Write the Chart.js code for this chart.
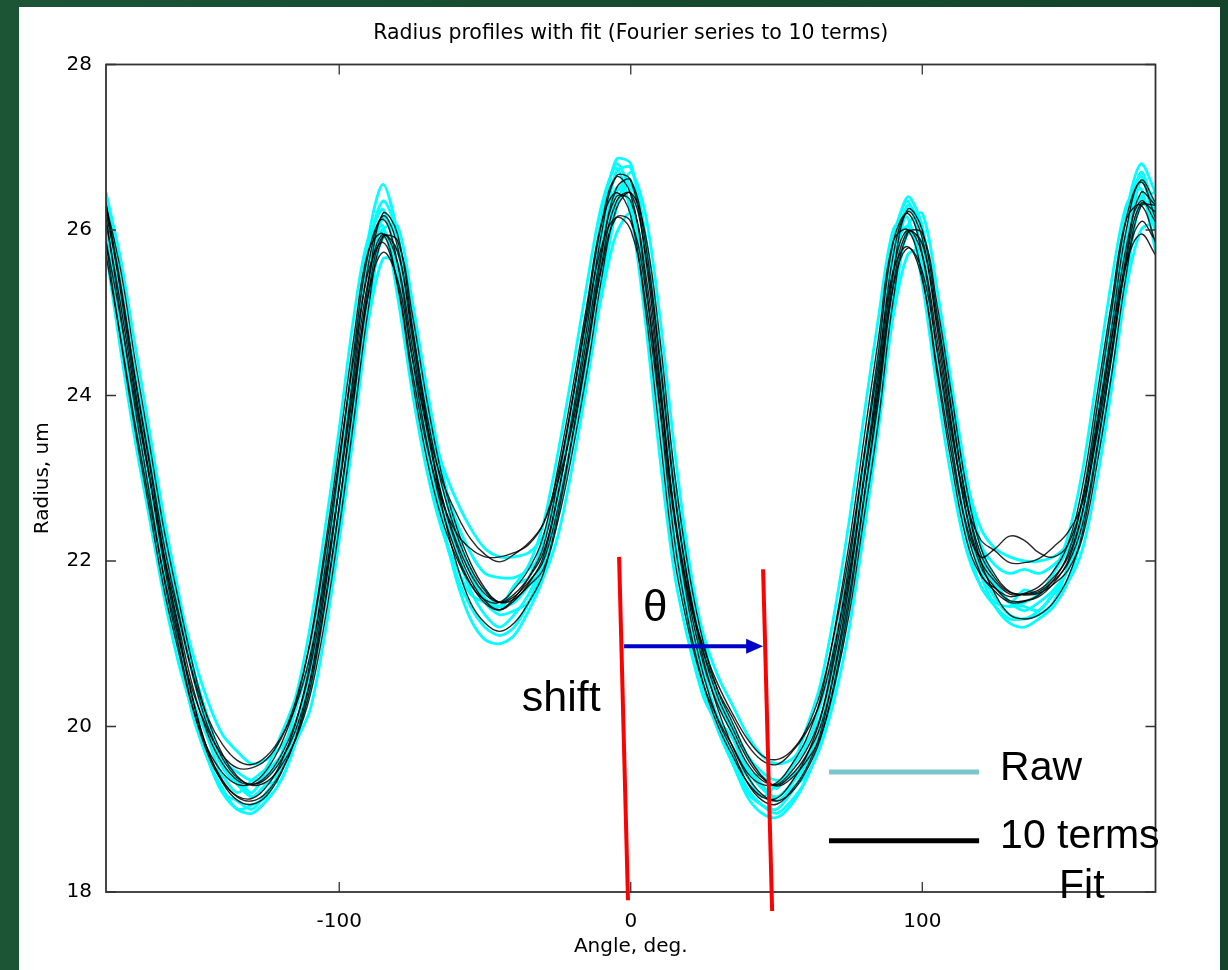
<!DOCTYPE html>
<html><head><meta charset="utf-8">
<script src="https://cdn.jsdelivr.net/npm/chart.js@4.4.1/dist/chart.umd.min.js"></script>
<style>
html,body{margin:0;padding:0;}
body{width:1228px;height:970px;overflow:hidden;position:relative;
 background:linear-gradient(90deg,#1b5536 0%,#174c30 40%,#14442b 100%);}
#panel{position:absolute;left:19px;top:7px;width:1201px;height:963px;background:#fff;}
canvas{display:block;}
</style></head><body>
<div id="panel"><canvas id="c" width="1201" height="963"></canvas></div>
<script>
// ---------------- data ----------------
const angles = [
 -180,-175,-170,-165,-160,-155,-150,-145,-140,-135,
 -130,-125,-120,-115,-110,-105,-100,-95,-90,-85,
 -80,-75,-70,-65,-60,-55,-50,-45,-40,-35,
 -30,-25,-20,-15,-10,-5,0,5,10,15,
 20,25,30,35,40,45,50,55,60,65,
 70,75,80,85,90,95,100,105,110,115,
 120,125,130,135,140,145,150,155,160,165,
 170,175,180];
const xTickValues = [-100, 0, 100];
const yTickValues = [18, 20, 22, 24, 26, 28];

// measured raw radius profiles (cyan)
const raw1 = [26.0,24.9,23.8,22.8,21.8,21.05,20.3,19.85,19.4,19.35,
 19.2,19.45,19.65,20.2,20.85,21.95,23.15,24.45,25.6,26.0,
 25.45,24.4,23.45,22.6,22.2,21.7,21.65,21.4,21.7,21.8,
 22.25,22.95,23.9,24.9,25.95,26.5,26.3,25.25,23.8,22.3,
 21.3,20.65,20.1,19.85,19.45,19.4,19.25,19.5,19.75,20.25,
 21.0,22.0,23.25,24.45,25.7,26.05,25.55,24.5,23.4,22.45,
 21.9,21.75,21.5,21.65,21.6,21.85,22.15,22.75,23.8,24.9,
 25.95,26.4,26.0];
const raw2 = [26.45,25.35,24.15,23.0,21.9,21.0,20.2,19.6,19.2,19.0,
 18.95,19.1,19.35,19.8,20.5,21.6,22.95,24.4,25.75,26.35,
 25.95,24.8,23.7,22.8,22.15,21.65,21.35,21.2,21.35,21.6,
 22.0,22.8,23.8,24.9,26.1,26.85,26.8,25.85,24.3,22.6,
 21.35,20.5,19.95,19.55,19.15,18.95,18.9,19.05,19.35,19.8,
 20.6,21.7,23.0,24.35,25.8,26.4,26.05,24.95,23.75,22.6,
 21.9,21.55,21.35,21.3,21.4,21.6,21.9,22.55,23.7,24.95,
 26.2,26.8,26.45];
const raw3 = [26.1,25.25,24.25,23.3,22.35,21.55,20.85,20.3,19.9,19.7,
 19.55,19.6,19.75,20.05,20.55,21.45,22.5,23.75,24.9,25.65,
 25.6,24.8,23.85,23.2,22.75,22.4,22.15,22.05,22.05,22.1,
 22.3,22.75,23.4,24.3,25.2,25.95,26.2,25.65,24.45,23.0,
 21.9,21.1,20.6,20.25,19.9,19.65,19.55,19.6,19.8,20.1,
 20.7,21.55,22.6,23.75,24.95,25.7,25.75,24.95,23.95,23.0,
 22.4,22.15,22.05,22.0,22.0,22.05,22.2,22.5,23.25,24.25,
 25.3,26.0,26.1];
const raw4 = [26.45,25.65,24.6,23.55,22.5,21.6,20.7,20.1,19.55,19.35,
 19.15,19.3,19.35,19.8,20.2,21.1,22.25,23.55,24.95,26.0,
 26.05,25.15,24.1,23.15,22.4,21.85,21.5,21.35,21.4,21.5,
 21.8,22.3,23.15,24.15,25.25,26.25,26.7,26.2,24.95,23.35,
 22.0,21.05,20.35,19.95,19.5,19.3,19.1,19.25,19.4,19.75,
 20.35,21.2,22.35,23.6,25.0,26.05,26.2,25.3,24.15,23.05,
 22.2,21.75,21.5,21.45,21.4,21.6,21.75,22.15,23.0,24.1,
 25.35,26.4,26.45];
const raw5 = [25.75,24.55,23.45,22.5,21.55,20.75,20.15,19.6,19.4,19.2,
 19.35,19.5,19.9,20.35,21.2,22.35,23.6,24.95,25.9,26.05,
 25.2,24.05,23.1,22.4,21.95,21.6,21.5,21.45,21.7,21.95,
 22.45,23.3,24.3,25.35,26.3,26.75,26.2,24.9,23.25,21.85,
 21.0,20.35,20.0,19.6,19.4,19.15,19.3,19.5,19.95,20.5,
 21.4,22.5,23.75,24.95,26.0,26.15,25.35,24.1,23.0,22.15,
 21.7,21.5,21.45,21.5,21.6,21.85,22.3,23.1,24.25,25.4,
 26.3,26.5,25.75];
const raw6 = [26.2,25.2,24.05,23.0,21.95,21.05,20.25,19.6,19.25,19.0,
 19.05,19.15,19.5,19.95,20.65,21.75,23.05,24.5,25.9,26.55,
 25.95,24.7,23.55,22.55,21.8,21.3,21.05,21.0,21.1,21.4,
 21.8,22.55,23.55,24.65,25.85,26.7,26.75,25.95,24.5,22.85,
 21.6,20.7,20.05,19.65,19.25,19.05,18.95,19.1,19.35,19.8,
 20.5,21.5,22.8,24.15,25.6,26.3,26.0,24.95,23.8,22.65,
 21.85,21.45,21.25,21.2,21.3,21.45,21.75,22.35,23.45,24.65,
 25.9,26.7,26.2];
const raw7 = [26.25,25.3,24.2,23.2,22.2,21.4,20.6,20.05,19.6,19.45,
 19.35,19.4,19.6,19.95,20.5,21.45,22.65,23.95,25.2,25.9,
 25.75,24.85,23.85,23.05,22.5,22.1,21.85,21.8,21.8,21.9,
 22.1,22.65,23.5,24.5,25.5,26.3,26.55,25.8,24.4,22.85,
 21.7,20.9,20.4,20.0,19.65,19.45,19.35,19.4,19.6,19.95,
 20.65,21.6,22.75,23.95,25.25,25.95,25.85,24.95,23.85,22.85,
 22.2,21.95,21.85,21.9,21.85,21.95,22.15,22.55,23.45,24.5,
 25.6,26.3,26.25];
const raw8 = [26.3,25.35,24.25,23.15,22.2,21.3,20.6,19.95,19.5,19.3,
 19.15,19.3,19.5,20.0,20.45,21.5,22.6,24.0,25.3,26.15,
 25.9,24.9,23.8,23.0,22.3,21.9,21.55,21.45,21.5,21.7,
 21.95,22.6,23.45,24.5,25.6,26.45,26.6,25.85,24.45,22.9,
 21.7,20.85,20.3,19.9,19.5,19.25,19.15,19.3,19.55,19.95,
 20.6,21.55,22.8,24.0,25.4,26.25,26.0,25.0,23.85,22.75,
 22.05,21.7,21.5,21.4,21.5,21.65,21.9,22.4,23.4,24.5,
 25.7,26.6,26.3];
const raw9 = [26.0,24.85,23.75,22.7,21.7,20.9,20.1,19.6,19.2,19.1,
 19.0,19.2,19.45,20.0,20.7,21.85,23.1,24.55,25.8,26.25,
 25.55,24.35,23.3,22.45,21.85,21.45,21.2,21.1,21.2,21.5,
 21.95,22.85,23.9,25.0,26.15,26.8,26.45,25.3,23.75,22.2,
 21.15,20.45,19.95,19.55,19.2,19.05,19.0,19.2,19.5,20.0,
 20.85,21.95,23.2,24.5,25.9,26.35,25.7,24.5,23.35,22.3,
 21.7,21.45,21.3,21.3,21.35,21.5,21.95,22.65,23.85,25.05,
 26.2,26.65,26.0];

// 10-term Fourier fits (black)
const fit1 = [26.1,25.1,24.0,23.0,22.0,21.2,20.45,19.9,19.55,19.35,
 19.3,19.4,19.65,20.05,20.7,21.7,22.9,24.2,25.4,25.95,
 25.6,24.6,23.6,22.8,22.25,21.85,21.6,21.5,21.6,21.8,
 22.1,22.8,23.7,24.7,25.75,26.4,26.35,25.5,24.1,22.55,
 21.5,20.75,20.25,19.9,19.55,19.35,19.3,19.45,19.7,20.1,
 20.85,21.8,23.0,24.2,25.5,26.0,25.7,24.7,23.6,22.6,
 22.0,21.75,21.6,21.6,21.65,21.8,22.05,22.6,23.6,24.7,
 25.8,26.35,26.1];
const fit2 = [26.33,25.26,24.08,23.01,21.94,21.09,20.29,19.7,19.32,19.11,
 19.06,19.16,19.43,19.86,20.55,21.62,22.91,24.3,25.58,26.17,
 25.8,24.73,23.66,22.8,22.21,21.78,21.52,21.41,21.52,21.73,
 22.05,22.8,23.76,24.83,25.96,26.65,26.6,25.69,24.19,22.53,
 21.41,20.61,20.07,19.7,19.32,19.11,19.06,19.22,19.48,19.91,
 20.71,21.73,23.01,24.3,25.69,26.22,25.9,24.83,23.66,22.59,
 21.94,21.68,21.52,21.52,21.57,21.73,22.0,22.59,23.66,24.83,
 26.01,26.6,26.33];
const fit3 = [25.87,24.94,23.92,22.99,22.06,21.31,20.61,20.1,19.78,19.59,
 19.54,19.64,19.87,20.24,20.85,21.78,22.89,24.1,25.22,25.73,
 25.4,24.47,23.64,23.0,22.59,22.27,22.08,21.99,22.08,22.22,
 22.45,22.95,23.64,24.57,25.54,26.15,26.1,25.31,24.01,22.57,
 21.59,20.89,20.43,20.1,19.78,19.59,19.54,19.68,19.92,20.29,
 20.99,21.87,22.99,24.1,25.31,25.78,25.5,24.57,23.54,22.71,
 22.26,22.12,21.98,21.98,22.03,22.17,22.35,22.71,23.54,24.57,
 25.59,26.1,25.87];
const fit4 = [26.3,25.52,24.42,23.4,22.36,21.51,20.71,20.08,19.66,19.4,
 19.29,19.33,19.52,19.84,20.37,21.26,22.4,23.7,25.05,25.91,
 25.87,25.0,23.96,23.07,22.44,21.98,21.67,21.5,21.54,21.7,
 21.9,22.48,23.32,24.29,25.41,26.25,26.45,25.95,24.69,23.07,
 21.86,21.0,20.42,20.04,19.66,19.4,19.28,19.37,19.57,19.87,
 20.51,21.37,22.52,23.7,25.14,25.96,25.96,25.12,24.02,22.92,
 22.17,21.83,21.63,21.59,21.61,21.72,21.89,22.29,23.18,24.26,
 25.47,26.29,26.3];
const fit5 = [25.85,24.68,23.58,22.6,21.64,20.89,20.19,19.72,19.44,19.3,
 19.31,19.47,19.78,20.26,21.03,22.14,23.4,24.7,25.75,25.95,
 25.33,24.2,23.24,22.53,22.06,21.72,21.53,21.5,21.66,21.9,
 22.3,23.12,24.08,25.11,26.09,26.45,26.17,25.05,23.51,22.03,
 21.14,20.5,20.08,19.76,19.44,19.3,19.32,19.53,19.83,20.33,
 21.19,22.23,23.48,24.7,25.86,26.0,25.44,24.28,23.18,22.28,
 21.83,21.67,21.57,21.61,21.69,21.88,22.21,22.91,24.02,25.14,
 26.13,26.3,25.85];
const fit6 = [26.3,25.35,24.2,23.15,22.05,21.15,20.3,19.7,19.35,19.15,
 19.1,19.2,19.45,19.85,20.45,21.45,22.65,24.0,25.35,26.2,
 25.95,24.85,23.7,22.7,22.0,21.5,21.25,21.15,21.25,21.5,
 21.85,22.55,23.5,24.55,25.7,26.5,26.6,25.85,24.45,22.85,
 21.65,20.8,20.2,19.75,19.4,19.18,19.1,19.2,19.45,19.85,
 20.55,21.5,22.75,24.05,25.45,26.25,26.0,25.0,23.85,22.75,
 22.0,21.6,21.35,21.3,21.35,21.5,21.8,22.35,23.35,24.5,
 25.7,26.45,26.3];
const fit7 = [25.7,24.7,23.65,22.7,21.8,21.05,20.4,19.95,19.65,19.5,
 19.5,19.6,19.85,20.3,21.0,22.05,23.25,24.45,25.5,25.85,
 25.35,24.3,23.4,22.75,22.35,22.15,22.05,22.05,22.1,22.2,
 22.45,23.05,23.95,24.95,25.8,26.15,26.0,25.15,23.85,22.5,
 21.55,20.95,20.5,20.15,19.85,19.65,19.6,19.7,19.95,20.4,
 21.15,22.1,23.25,24.4,25.5,25.8,25.4,24.35,23.3,22.45,
 22.05,22.15,22.3,22.25,22.1,22.05,22.2,22.75,23.7,24.7,
 25.6,25.95,25.7];
const fit8 = [26.22,25.31,24.21,23.2,22.18,21.36,20.58,19.99,19.61,19.38,
 19.3,19.37,19.59,19.95,20.54,21.48,22.65,23.95,25.23,25.93,
 25.74,24.8,23.78,22.94,22.35,21.92,21.64,21.5,21.57,21.75,
 22.0,22.64,23.51,24.5,25.58,26.34,26.44,25.73,24.4,22.81,
 21.68,20.88,20.34,19.97,19.61,19.38,19.29,19.41,19.64,19.99,
 20.68,21.59,22.76,23.95,25.32,25.98,25.83,24.91,23.81,22.76,
 22.09,21.79,21.62,21.6,21.63,21.76,21.97,22.45,23.39,24.48,
 25.64,26.32,26.22];
const fit9 = [26.14,24.99,23.84,22.8,21.77,20.96,20.2,19.66,19.33,19.16,
 19.13,19.27,19.56,20.03,20.77,21.88,23.17,24.53,25.72,26.13,
 25.6,24.48,23.45,22.66,22.11,21.73,21.49,21.41,21.55,21.8,
 22.17,22.97,23.94,25.03,26.08,26.64,26.43,25.4,23.86,22.26,
 21.23,20.5,20.0,19.64,19.33,19.15,19.13,19.32,19.62,20.09,
 20.94,21.98,23.27,24.53,25.85,26.2,25.7,24.57,23.42,22.42,
 21.85,21.63,21.5,21.51,21.59,21.77,22.09,22.76,23.86,25.03,
 26.14,26.58,26.14];

const rawSeries = [raw1, raw2, raw3, raw4, raw5, raw6, raw7, raw8, raw9];
const fitSeries = [fit1, fit2, fit3, fit4, fit5, fit6, fit7, fit8, fit9];

// ---------------- chart ----------------
const pts = arr => arr.map((v, i) => ({x: angles[i], y: v}));
const datasets = [];
fitSeries.forEach((s, i) => datasets.push({
  label: 'fit' + (i + 1), data: pts(s), borderColor: 'rgba(0,0,0,0.85)',
  borderWidth: 1.4, pointRadius: 0, tension: 0.4, fill: false, order: 0
}));
rawSeries.forEach((s, i) => datasets.push({
  label: 'raw' + (i + 1), data: pts(s), borderColor: '#00ffff',
  borderWidth: 2.8, pointRadius: 0, tension: 0.3, fill: false, order: 1
}));

const FONT = "'DejaVu Sans', sans-serif";
const ANN = "'Liberation Sans', Arial, sans-serif";

const framePlugin = {
  id: 'frameAnn',
  afterDraw(chart) {
    const {ctx, chartArea: a, scales: {x, y}} = chart;
    const X = v => x.getPixelForValue(v), Y = v => y.getPixelForValue(v);
    ctx.save();
    ctx.strokeStyle = '#333';
    ctx.lineWidth = 1.8;
    ctx.strokeRect(a.left, a.top, a.right - a.left, a.bottom - a.top);
    ctx.lineWidth = 1.3;
    ctx.beginPath();
    xTickValues.forEach(v => {
      const px = X(v);
      ctx.moveTo(px, a.bottom); ctx.lineTo(px, a.bottom - 10);
      ctx.moveTo(px, a.top); ctx.lineTo(px, a.top + 10);
    });
    yTickValues.forEach(v => {
      const py = Y(v);
      ctx.moveTo(a.left, py); ctx.lineTo(a.left + 10, py);
      ctx.moveTo(a.right, py); ctx.lineTo(a.right - 10, py);
    });
    ctx.stroke();

    // red reference lines
    ctx.strokeStyle = '#ff0000';
    ctx.lineWidth = 4;
    [[-4.0, 22.05, -0.95, 17.9], [45.4, 21.9, 48.5, 17.77]].forEach(l => {
      ctx.beginPath();
      ctx.moveTo(X(l[0]), Y(l[1])); ctx.lineTo(X(l[2]), Y(l[3]));
      ctx.stroke();
    });
    // blue arrow
    const ay = Y(20.97), ax0 = X(-2.3), ax1 = X(45.4);
    ctx.strokeStyle = '#0000c8'; ctx.fillStyle = '#0000c8';
    ctx.lineWidth = 4;
    ctx.beginPath(); ctx.moveTo(ax0, ay); ctx.lineTo(ax1 - 14, ay); ctx.stroke();
    ctx.beginPath(); ctx.moveTo(ax1, ay); ctx.lineTo(ax1 - 17, ay - 7.5); ctx.lineTo(ax1 - 17, ay + 7.5); ctx.closePath(); ctx.fill();

    // texts
    ctx.fillStyle = '#000';
    ctx.textBaseline = 'alphabetic'; ctx.textAlign = 'left';
    ctx.font = '44px ' + ANN;
    ctx.fillText('θ', X(4.2), Y(21.28));
    ctx.font = '43px ' + ANN;
    ctx.fillText('shift', X(-37.4), Y(20.19));

    // legend
    ctx.lineWidth = 5;
    ctx.strokeStyle = '#7cc5c9';
    ctx.beginPath(); ctx.moveTo(X(68.0), Y(19.45)); ctx.lineTo(X(119.5), Y(19.45)); ctx.stroke();
    ctx.strokeStyle = '#000';
    ctx.beginPath(); ctx.moveTo(X(68.0), Y(18.62)); ctx.lineTo(X(119.5), Y(18.62)); ctx.stroke();
    ctx.font = '41px ' + ANN;
    ctx.fillText('Raw', X(126.7), Y(19.35));
    ctx.fillText('10 terms', X(126.7), Y(18.53));
    ctx.fillText('Fit', X(146.9), Y(17.93));
    ctx.restore();
  }
};

new Chart(document.getElementById('c'), {
  type: 'line',
  data: {datasets},
  plugins: [framePlugin],
  options: {
    responsive: false, animation: false, devicePixelRatio: 1,
    layout: {padding: {left: 0, right: 64.5, top: 0, bottom: 0}},
    plugins: {
      legend: {display: false}, tooltip: {enabled: false},
      title: {display: true, fullSize: false,
        text: 'Radius profiles with fit (Fourier series to 10 terms)',
        color: '#000', font: {family: FONT, size: 20.5, weight: 'normal'},
        padding: {top: 14.7, bottom: 18.2}}
    },
    scales: {
      x: {type: 'linear', min: -180, max: 180,
        afterFit: s => { s.height = 78; },
        afterBuildTicks: s => { s.ticks = xTickValues.map(v => ({value: v})); },
        grid: {display: false, drawTicks: false}, border: {display: false},
        ticks: {color: '#000', font: {family: FONT, size: 20}, padding: 18, maxRotation: 0},
        title: {display: true, text: 'Angle, deg.', color: '#000',
          font: {family: FONT, size: 20}, padding: {top: 0, bottom: 11}}
      },
      y: {type: 'linear', min: 18, max: 28,
        afterFit: s => { s.width = 87; },
        afterBuildTicks: s => { s.ticks = yTickValues.map(v => ({value: v})); },
        grid: {display: false, drawTicks: false}, border: {display: false},
        ticks: {color: '#000', font: {family: FONT, size: 20}, padding: 14},
        title: {display: true, text: 'Radius, um', color: '#000',
          font: {family: FONT, size: 20}, padding: {top: 11.5, bottom: 0}}
      }
    }
  }
});
</script>
</body></html>
